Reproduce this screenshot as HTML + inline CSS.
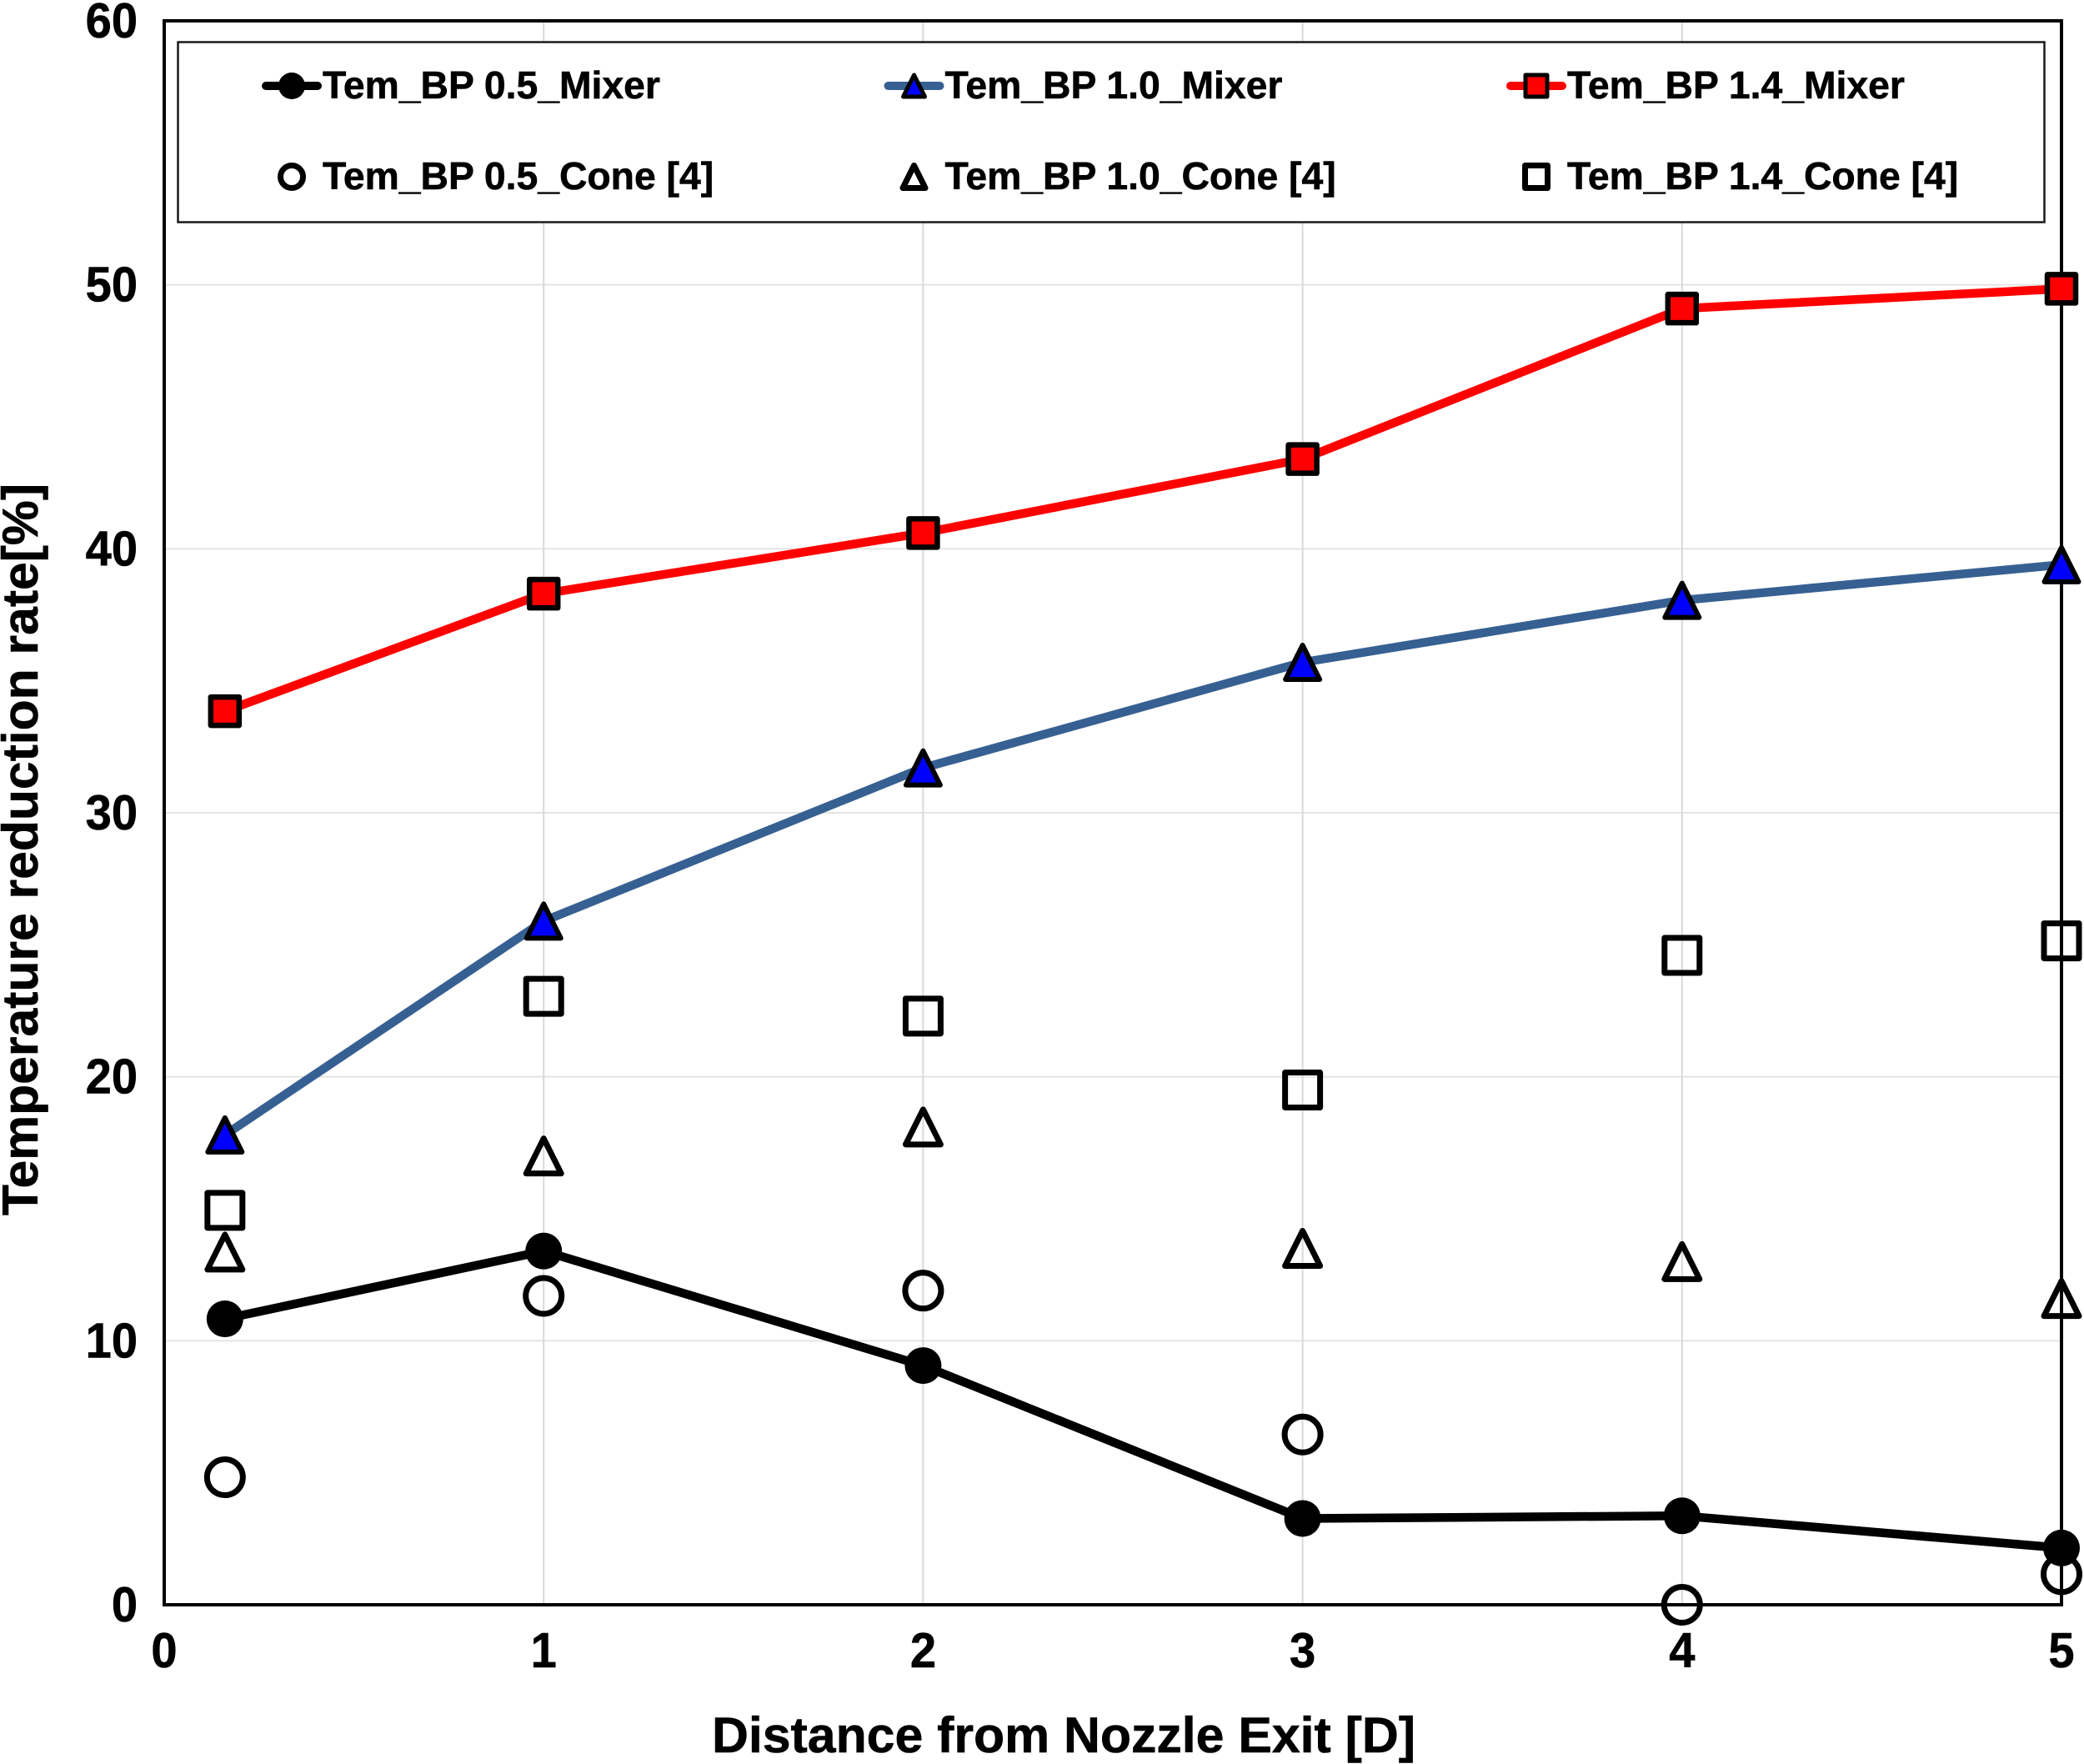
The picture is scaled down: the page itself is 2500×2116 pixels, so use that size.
<!DOCTYPE html>
<html lang="en">
<head>
<meta charset="utf-8">
<title>Temperature reduction rate chart</title>
<style>
html,body{margin:0;padding:0;background:#fff;width:2500px;height:2116px;overflow:hidden}
svg{display:block}
text{font-family:"Liberation Sans",Arial,sans-serif;font-weight:700;fill:#000;stroke:#000;stroke-width:0.6px}
</style>
</head>
<body>
<svg id="chart" xmlns="http://www.w3.org/2000/svg" width="2500" height="2116" viewBox="0 0 2500 2116">
<rect x="0" y="0" width="2500" height="2116" fill="#ffffff"/>
<g id="grid"></g>
<g id="frame"></g>
<g id="series"></g>
<g id="ticks"></g>
<rect x="213.5" y="50.5" width="2239" height="216" fill="#ffffff" stroke="#1a1a1a" stroke-width="2.5"/>
<g id="legend"></g>
<text x="1276" y="2102" font-size="60" text-anchor="middle" textLength="844" lengthAdjust="spacingAndGlyphs">Distance from Nozzle Exit [D]</text>
<text transform="translate(45,1019) rotate(-90)" x="0" y="0" font-size="60" text-anchor="middle" textLength="878" lengthAdjust="spacingAndGlyphs">Temperature reduction rate[%]</text>
</svg>
<script>
const xTicks = [0, 1, 2, 3, 4, 5];
const yTicks = [0, 10, 20, 30, 40, 50, 60];
const distances = [0.16, 1, 2, 3, 4, 5];
const mixer05 = [10.83, 13.4, 9.06, 3.27, 3.37, 2.15];
const mixer10 = [17.8, 25.9, 31.7, 35.7, 38.05, 39.4];
const mixer14 = [33.85, 38.3, 40.6, 43.4, 49.1, 49.85];
const cone05 = [4.83, 11.7, 11.9, 6.45, 0, 1.16];
const cone10 = [13.36, 17.0, 18.1, 13.5, 13.0, 11.6];
const cone14 = [14.94, 23.05, 22.3, 19.5, 24.6, 25.15];

const NS = 'http://www.w3.org/2000/svg';
const PLOT = {left: 197, right: 2473, top: 25, bottom: 1925};
const xScale = v => PLOT.left + (v / 5) * (PLOT.right - PLOT.left);
const yScale = v => PLOT.bottom - (v / 60) * (PLOT.bottom - PLOT.top);

function make(tag, attrs, parent) {
  const el = document.createElementNS(NS, tag);
  for (const k in attrs) el.setAttribute(k, attrs[k]);
  parent.appendChild(el);
  return el;
}

function marker(shape, cx, cy, size, fill, sw, parent) {
  const h = size / 2;
  const style = {fill: fill, stroke: '#000', 'stroke-width': sw, 'stroke-linejoin': 'round'};
  if (shape === 'circle') {
    return make('circle', Object.assign({cx: cx, cy: cy, r: h}, style), parent);
  }
  if (shape === 'square') {
    return make('rect', Object.assign({x: cx - h, y: cy - h, width: size, height: size}, style), parent);
  }
  const pts = [[cx, cy - h], [cx + h, cy + h], [cx - h, cy + h]].map(p => p.join(',')).join(' ');
  return make('polygon', Object.assign({points: pts}, style), parent);
}

const gridG = document.getElementById('grid');
yTicks.slice(1, -1).forEach(v => {
  const l = make('line', {x1: PLOT.left, x2: PLOT.right, y1: yScale(v), y2: yScale(v), stroke: '#e4e4e0', 'stroke-width': 2}, gridG);
  
  
});
xTicks.slice(1, -1).forEach(v => {
  const l = make('line', {x1: xScale(v), x2: xScale(v), y1: PLOT.top, y2: PLOT.bottom, stroke: '#d9d9d9', 'stroke-width': 2}, gridG);
  
  
});

const frameG = document.getElementById('frame');
const frameRect = make('rect', {x: PLOT.left, y: PLOT.top, width: PLOT.right - PLOT.left, height: PLOT.bottom - PLOT.top, fill: 'none', stroke: '#000', 'stroke-width': 4}, frameG);



const ticksG = document.getElementById('ticks');
yTicks.forEach(v => {
  const t = make('text', {transform: 'translate(165,' + (yScale(v) + 20) + ') scale(0.95,1)', 'font-size': 59, 'text-anchor': 'end'}, ticksG);
  t.textContent = String(v);
  
  
});
xTicks.forEach(v => {
  const t = make('text', {transform: 'translate(' + xScale(v) + ',2000) scale(0.95,1)', 'font-size': 59, 'text-anchor': 'middle'}, ticksG);
  t.textContent = String(v);
  
  
});

const seriesG = document.getElementById('series');

function drawCone(values, shape, size, name) {
  const g = make('g', {}, seriesG);
  
  
  values.forEach((v, i) => {
    const m = marker(shape, xScale(distances[i]), yScale(v), size, 'none', 7, g);
    
    
  });
}

function drawMixer(values, color, shape, size, fill, sw, name) {
  const g = make('g', {}, seriesG);
  
  
  const pts = values.map((v, i) => xScale(distances[i]) + ',' + yScale(v)).join(' ');
  const line = make('polyline', {points: pts, fill: 'none', stroke: color, 'stroke-width': 10.5, 'stroke-linejoin': 'round', 'stroke-linecap': 'round'}, g);
  
  
  values.forEach((v, i) => {
    const m = marker(shape, xScale(distances[i]), yScale(v), size, fill, sw, g);
    
    
  });
}

drawCone(cone05, 'circle', 43, 'series-bp05-cone');
drawCone(cone10, 'triangle', 42, 'series-bp10-cone');
drawCone(cone14, 'square', 42, 'series-bp14-cone');
drawMixer(mixer05, '#000000', 'circle', 44, '#000000', 0, 'series-bp05-mixer');
drawMixer(mixer10, '#376092', 'triangle', 41, '#0000ff', 6, 'series-bp10-mixer');
drawMixer(mixer14, '#ff0000', 'square', 34, '#ff0000', 6.5, 'series-bp14-mixer');

const legendLabels = ['Tem_BP 0.5_Mixer', 'Tem_BP 1.0_Mixer', 'Tem_BP 1.4_Mixer', 'Tem_BP 0.5_Cone [4]', 'Tem_BP 1.0_Cone [4]', 'Tem_BP 1.4_Cone [4]'];
const legendShapes = ['circle', 'triangle', 'square', 'circle', 'triangle', 'square'];
const legendColors = ['#000000', '#376092', '#ff0000'];
const legendFills = ['#000000', '#0000ff', '#ff0000'];
const legendG = document.getElementById('legend');
legendLabels.forEach((label, i) => {
  const col = i % 3;
  const row = i < 3 ? 0 : 1;
  const cx = 350 + col * 746.5;
  const cy = row === 0 ? 103 : 212;
  const g = make('g', {}, legendG);
  
  
  if (row === 0) {
    make('line', {x1: cx - 31, x2: cx + 31, y1: cy, y2: cy, stroke: legendColors[col], 'stroke-width': 10, 'stroke-linecap': 'round'}, g);
    if (col === 0) marker('circle', cx, cy, 32, '#000000', 0, g);
    else if (col === 1) marker('triangle', cx, cy, 26, legendFills[col], 5, g);
    else marker('square', cx, cy, 26, legendFills[col], 5, g);
  } else {
    marker(legendShapes[i], cx, cy, 27, 'none', 7, g);
  }
  const t = make('text', {x: cx + 37, y: row === 0 ? 118 : 227, 'font-size': 46.3}, g);
  t.textContent = label;
});
</script>
</body>
</html>
